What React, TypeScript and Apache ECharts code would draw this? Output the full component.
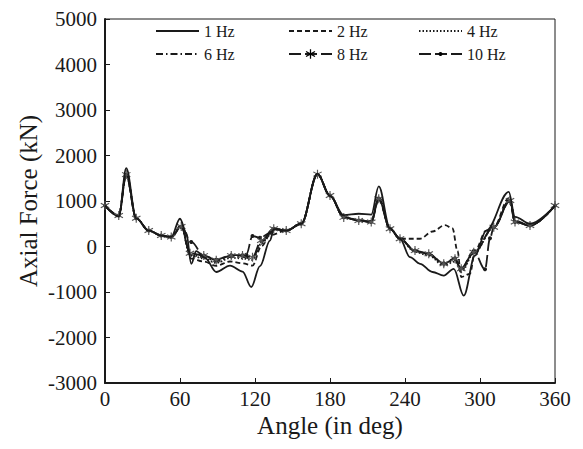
import React, { useEffect, useRef } from "react";
import * as echarts from "echarts";

const FONT = '"Liberation Serif", "Times New Roman", serif';
const INK = "#1a1a1a";

const xTicks = [0, 60, 120, 180, 240, 300, 360];
const yTicks = [-3000, -2000, -1000, 0, 1000, 2000, 3000, 4000, 5000];

const angle1 = [0, 11, 17, 25, 35, 45, 53, 60, 65, 69, 73, 80, 89, 100, 110, 117, 124, 132, 135, 145, 157, 170, 180, 191, 203, 213, 219, 228, 236, 244, 252, 262, 271, 279, 287, 296, 305, 323, 328, 340, 360];
const force1 = [900, 660, 1720, 620, 350, 240, 210, 610, 300, -380, -100, -250, -560, -420, -550, -890, -430, 130, 380, 350, 500, 1600, 1110, 690, 720, 700, 1320, 400, 170, -235, -380, -560, -640, -490, -1080, -200, 350, 1200, 650, 500, 900];

const angle2 = [0, 11, 17, 25, 35, 45, 53, 61, 69, 79, 89, 100, 110, 118, 125, 132, 145, 157, 170, 180, 191, 203, 213, 219, 228, 236, 252, 262, 272, 278, 282, 285, 292, 296, 305, 311, 323, 328, 340, 360];
const force2 = [900, 670, 1620, 620, 350, 240, 210, 470, -265, -330, -425, -330, -370, -420, 0, 250, 350, 500, 1590, 1120, 650, 580, 560, 1100, 390, 170, 170, 330, 470, 400, -100, -670, -600, -90, 350, 430, 1060, 560, 470, 900];

const angleMid = [0, 11, 17, 25, 35, 45, 53, 61, 68, 79, 89, 101, 110, 118, 125, 135, 145, 157, 170, 180, 191, 203, 213, 219, 228, 236, 248, 259, 271, 280, 285, 295, 311, 324, 328, 340, 360];
const force4 = [900, 670, 1600, 620, 350, 240, 210, 450, -200, -260, -360, -250, -260, -300, 60, 390, 350, 500, 1590, 1120, 650, 575, 545, 1080, 390, 170, -120, -200, -420, -330, -560, -150, 420, 1040, 545, 465, 900];
const force6 = [900, 675, 1590, 620, 350, 240, 210, 445, -180, -230, -330, -225, -230, -270, 100, 390, 350, 500, 1590, 1120, 645, 572, 542, 1065, 390, 170, -100, -180, -400, -300, -520, -140, 422, 1025, 542, 462, 900];
const force8 = [900, 680, 1580, 620, 350, 240, 210, 440, -150, -200, -300, -200, -200, -235, 130, 390, 350, 500, 1590, 1120, 640, 570, 540, 1050, 390, 170, -90, -160, -380, -270, -490, -125, 425, 1010, 540, 460, 900];

const angle10 = [0, 11, 17, 25, 35, 45, 53, 61, 69, 79, 89, 101, 110, 113, 118, 124, 132, 135, 145, 157, 170, 180, 191, 203, 213, 219, 228, 236, 248, 259, 271, 280, 285, 295, 304, 308, 311, 324, 328, 340, 360];
const force10 = [900, 680, 1560, 620, 350, 240, 210, 430, 100, -200, -290, -190, -190, -180, 230, 190, 300, 390, 350, 500, 1580, 1120, 640, 570, 540, 1030, 390, 170, -90, -160, -370, -260, -480, -100, -500, 180, 425, 1000, 540, 460, 900];

const seriesNames = ["1 Hz", "2 Hz", "4 Hz", "6 Hz", "8 Hz", "10 Hz"];

const STAR =
  "path://M-0.6,-5L0.6,-5L0.6,5L-0.6,5Z" +
  "M4.03,-3.02L4.63,-1.98L-4.03,3.02L-4.63,1.98Z" +
  "M-4.63,-1.98L-4.03,-3.02L4.63,1.98L4.03,3.02Z";

function pairs(xs: number[], ys: number[]) {
  return xs.map((x, i) => [x, ys[i]]);
}

function mk(name: string, xs: number[], ys: number[], dash: any, symbol: string, symbolSize: number, itemStyle: any, z: number) {
  return {
    name,
    type: "line",
    data: pairs(xs, ys),
    smooth: 0.35,
    smoothMonotone: "x",
    symbol,
    symbolSize,
    showSymbol: symbol !== "none",
    lineStyle: { color: INK, width: 1.8, type: dash },
    itemStyle,
    z,
  };
}

export default function App() {
  const ref = useRef<HTMLDivElement>(null);
  useEffect(() => {
    if (!ref.current) return;
    const chart = echarts.init(ref.current, undefined, { renderer: "svg" });
    const legendCfg = [
      { x: 155, y: 31, h: 12, hide: true },
      { x: 288, y: 31, h: 12, hide: true },
      { x: 418, y: 31, h: 12, hide: true },
      { x: 155, y: 54, h: 12, hide: true },
      { x: 288, y: 54, h: 12, hide: false },
      { x: 418, y: 54, h: 5, hide: false },
    ];
    chart.setOption({
      animation: false,
      backgroundColor: "#fff",
      grid: {
        left: 105, right: 28, top: 19, bottom: 66,
        show: true, borderColor: INK, borderWidth: 1, backgroundColor: "transparent",
      },
      legend: seriesNames.map((n, i) => {
        const c = legendCfg[i];
        return {
          data: [n],
          left: c.x,
          top: c.y - 8,
          padding: 0,
          itemWidth: 43,
          itemHeight: c.h,
          itemStyle: c.hide ? { opacity: 0 } : undefined,
          textStyle: { fontFamily: FONT, fontSize: 16, color: INK },
          selectedMode: false,
        };
      }),
      xAxis: {
        type: "value",
        min: 0,
        max: 360,
        interval: 60,
        name: "Angle (in deg)",
        nameLocation: "middle",
        nameGap: 30,
        nameMoveOverlap: false,
        nameTextStyle: { fontFamily: FONT, fontSize: 25, color: INK },
        axisLine: { show: true, onZero: false, lineStyle: { color: INK, width: 2 } },
        axisTick: { show: true, inside: true, length: 5, lineStyle: { color: INK } },
        axisLabel: {
          fontFamily: FONT, fontSize: 21, color: INK, margin: 5,
          formatter: (v: number) => (xTicks.includes(v) ? String(v) : ""),
        },
        splitLine: { show: false },
      },
      yAxis: {
        type: "value",
        min: yTicks[0],
        max: yTicks[yTicks.length - 1],
        interval: 1000,
        name: "Axial Force (kN)",
        nameLocation: "middle",
        nameGap: 64,
        nameMoveOverlap: false,
        nameTextStyle: { fontFamily: FONT, fontSize: 25, color: INK },
        axisLine: { show: true, onZero: false, lineStyle: { color: INK, width: 2 } },
        axisTick: { show: true, inside: true, length: 5, lineStyle: { color: INK } },
        axisLabel: {
          fontFamily: FONT, fontSize: 21, color: INK, margin: 8,
          formatter: (v: number) => (yTicks.includes(v) ? String(v) : ""),
        },
        splitLine: { show: false },
      },
      series: [
        mk("2 Hz", angle2, force2, [5, 3], "none", 0, { color: INK }, 2),
        mk("4 Hz", angleMid, force4, [1.5, 2], "none", 0, { color: INK }, 2),
        mk("6 Hz", angleMid, force6, [7, 3, 1.5, 3], "none", 0, { color: INK }, 2),
        mk("10 Hz", angle10, force10, [12, 4], "circle", 4, { color: INK }, 3),
        mk("8 Hz", angleMid, force8, [12, 4], STAR, 9, { color: "#555" }, 4),
        mk("1 Hz", angle1, force1, "solid", "none", 0, { color: INK }, 5),
      ],
    });
    return () => chart.dispose();
  }, []);
  return <div ref={ref} style={{ position: "absolute", left: 0, top: 0, width: 583, height: 449 }} />;
}
